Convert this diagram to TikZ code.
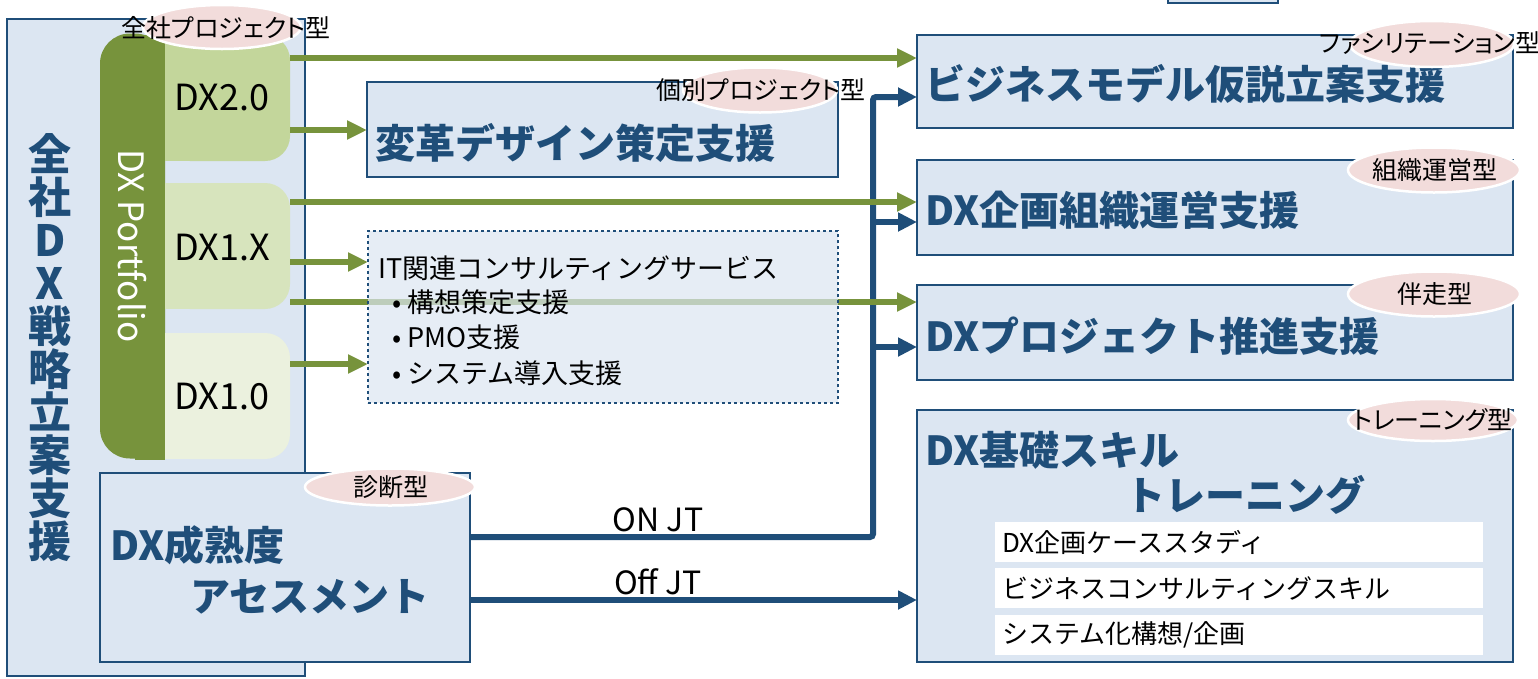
\documentclass[tikz,border=0pt]{standalone}
\usepackage{fontspec}
\setmainfont{Noto Sans CJK JP}
\newfontfamily\tagfont[RawFeature=+palt]{Noto Sans CJK JP}
\usetikzlibrary{arrows.meta, shapes.geometric}
\definecolor{navy}{HTML}{1F4E79}
\definecolor{paleblue}{HTML}{DCE6F2}
\definecolor{dxgreen}{HTML}{77933C}
\definecolor{dxtwo}{HTML}{C3D69B}
\definecolor{dxonex}{HTML}{D7E4BD}
\definecolor{dxone}{HTML}{EBF1DE}
\definecolor{tagpink}{HTML}{F2DCDB}
\tikzset{box/.style={draw=navy, line width=2.5pt, fill=paleblue, anchor=north west,
    inner sep=0pt, outer sep=0pt}}
\tikzset{title/.style={anchor=west, inner sep=0pt, text=navy,
    font=\fontsize{40pt}{46pt}\selectfont\bfseries}}
\tikzset{body/.style={anchor=west, inner sep=0pt, font=\fontsize{27pt}{32pt}\selectfont}}
\tikzset{tag/.style={ellipse, fill=tagpink, draw=white, line width=2.5pt, inner sep=0pt}}
\tikzset{tagtext/.style={inner sep=0pt, font=\tagfont\fontsize{25pt}{30pt}\selectfont}}
\tikzset{dxcell/.style={rounded corners=25pt, minimum width=125pt, minimum height=126pt,
    inner sep=0pt, outer sep=0pt}}
\tikzset{dxtext/.style={inner sep=0pt, font=\fontsize{36pt}{40pt}\selectfont}}
\tikzset{skillrow/.style={anchor=north west, fill=white, minimum width=488pt, minimum height=40pt,
    text width=474pt, inner xsep=7pt, inner ysep=0pt, align=left, font=\fontsize{26pt}{32pt}\selectfont}}
\tikzset{jtlabel/.style={inner sep=0pt, font=\fontsize{32pt}{36pt}\selectfont}}
\tikzset{garrow/.style={draw=dxgreen, line width=5.5pt, -{Triangle[length=20pt, width=18pt]}}}
\tikzset{barrow/.style={draw=navy, line width=6pt, -{Triangle[length=19pt, width=18pt]}}}

\begin{document}
\begin{tikzpicture}[x=1pt, y=-1pt]
  \useasboundingbox (0,0) rectangle (1538,678);
  \fill[white] (0,0) rectangle (1538,678);
  \clip (0,0) rectangle (1538,678);

  % left column
  \node[box, minimum width=298pt, minimum height=657pt] (strat) at (7,19) {};
  \node[align=center, inner sep=0pt, text=navy, font=\fontsize{43pt}{43pt}\selectfont\bfseries]
    (strattxt) at (50,348) {全\\社\\D\\X\\戦\\略\\立\\案\\支\\援};

  \fill[dxgreen] (135,35) rectangle (165,460);
  \node[fill=dxgreen, rotate=-90, rounded corners=30pt, minimum width=425pt, minimum height=65pt,
    inner sep=0pt, text=white, font=\fontsize{35pt}{38pt}\selectfont] (pf) at (132.5,246) {DX Portfolio};

  \fill[dxtwo] (165,35) rectangle (195,161);
  \node[dxcell, fill=dxtwo] (dx20) at (227.5,98) {};
  \fill[dxonex] (165,183) rectangle (195,309);
  \node[dxcell, fill=dxonex] (dx1x) at (227.5,246) {};
  \fill[dxone] (165,333) rectangle (195,459);
  \node[dxcell, fill=dxone] (dx10) at (227.5,396) {};
  \node[dxtext] (dx20t) at (222,98) {DX2.0};
  \node[dxtext] (dx1xt) at (222,248) {DX1.X};
  \node[dxtext] (dx10t) at (222,397) {DX1.0};

  \node[box, minimum width=370pt, minimum height=189pt] (assess) at (100,473) {};

  % right column
  \node[box, minimum width=110pt, minimum height=60pt] (topbox) at (1168,-57) {};
  \node[box, minimum width=471pt, minimum height=95pt] (reform) at (367,82) {};
  \node[box, minimum width=596pt, minimum height=93pt] (bizmodel) at (917,35) {};
  \node[box, minimum width=596pt, minimum height=95pt] (orgops) at (917,160) {};
  \node[box, minimum width=596pt, minimum height=95pt] (projdrive) at (917,285) {};
  \node[box, minimum width=596pt, minimum height=252pt] (skill) at (917,410) {};

  % ON JT / Off JT
  \coordinate (bus) at (873,97);
  \draw[barrow, rounded corners=3pt] (assess.east |- 0,537) -| (bus) -- (bizmodel.west |- bus);
  \draw[barrow] (bus |- 0,222) -- (orgops.west |- 0,222);
  \draw[barrow] (bus |- 0,347) -- (projdrive.west |- 0,347);
  \draw[barrow] (assess.east |- 0,600) -- (skill.west |- 0,600);
  \node[jtlabel] (onjt) at (658,520) {ON JT};
  \node[jtlabel] (offjt) at (658,582) {Off JT};

  \draw[garrow] (dx20.east |- 0,58) -- (bizmodel.west |- 0,58);
  \draw[garrow] (dx20.east |- 0,130) -- (reform.west |- 0,130);
  \draw[garrow] (dx1x.east |- 0,202) -- (orgops.west |- 0,202);
  \draw[garrow] (dx1x.east |- 0,302) -- (projdrive.west |- 0,302);

  \node[box, dashed, line width=1.2pt, fill opacity=0.7, minimum width=470pt, minimum height=172pt] (itsvc) at (368,231) {};
  \draw[garrow] (dx1x.east |- 0,262) -- (itsvc.west |- 0,262);
  \draw[garrow] (dx10.east |- 0,364) -- (itsvc.west |- 0,364);
  \node[body] (ittitle) at (378,268) {IT関連コンサルティングサービス};
  \node[body] (itone) at (392,302) {• 構想策定支援};
  \node[body] (ittwo) at (392,337) {• PMO支援};
  \node[body] (itthree) at (392,373) {• システム導入支援};

  % titles
  \node[title] (reformtxt) at (375,143) {変革デザイン策定支援};
  \node[title] (bizmodeltxt) at (925,84) {ビジネスモデル仮説立案支援};
  \node[title] (orgopstxt) at (925,210) {DX企画組織運営支援};
  \node[title] (projdrivetxt) at (925,336) {DXプロジェクト推進支援};
  \node[title] (skilla) at (925,450) {DX基礎スキル};
  \node[title] (skillb) at (1125,495) {トレーニング};
  \node[title] (assessa) at (110,545) {DX成熟度};
  \node[title] (assessb) at (190,597) {アセスメント};

  \node[skillrow] (case) at (995,522) {DX企画ケーススタディ};
  \node[skillrow] (consult) at (995,568) {ビジネスコンサルティングスキル};
  \node[skillrow] (sysplan) at (995,615) {システム化構想/企画};

  % tags
  \node[tag, minimum width=170pt, minimum height=44pt] (toptag) at (1382,-21) {};
  \node[tag, minimum width=158pt, minimum height=44pt] (zenshatag) at (222,27) {};
  \node[tagtext] (zenshatxt) at (226,28) {全社プロジェクト型};
  \node[tag, minimum width=154pt, minimum height=45pt] (kobetsutag) at (760,90) {};
  \node[tagtext] (kobetsutxt) at (761,90) {個別プロジェクト型};
  \node[tag, minimum width=164pt, minimum height=46pt] (facitag) at (1432,44) {};
  \node[tagtext] (facitxt) at (1430,43) {ファシリテーション型};
  \node[tag, minimum width=172pt, minimum height=45pt] (orgtag) at (1434,170) {};
  \node[tagtext] (orgtxt) at (1435,170) {組織運営型};
  \node[tag, minimum width=172pt, minimum height=45pt] (bansotag) at (1434,294) {};
  \node[tagtext] (bansotxt) at (1435,294) {伴走型};
  \node[tag, minimum width=170pt, minimum height=42pt] (traintag) at (1433,420) {};
  \node[tagtext] (traintxt) at (1433,420) {トレーニング型};
  \node[tag, minimum width=170pt, minimum height=37pt] (shindantag) at (390,487) {};
  \node[tagtext] (shindantxt) at (391,487) {診断型};
\end{tikzpicture}
\end{document}
